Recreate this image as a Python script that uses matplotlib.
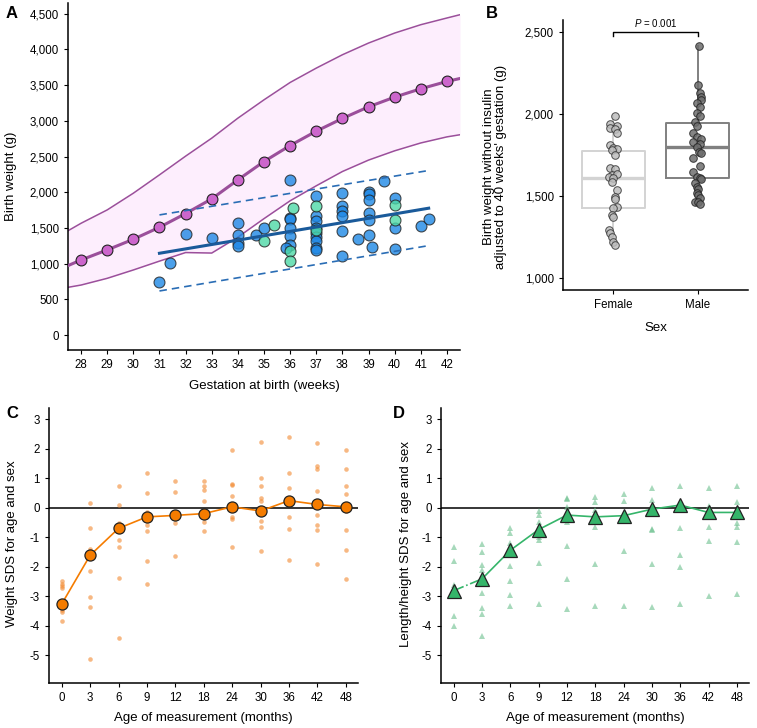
import numpy as np
import matplotlib
matplotlib.use("Agg")
import matplotlib.pyplot as plt

plt.rcParams['font.family'] = ['Liberation Sans', 'DejaVu Sans']
plt.rcParams['mathtext.fontset'] = 'custom'
plt.rcParams['mathtext.it'] = 'Liberation Sans:italic'
plt.rcParams['mathtext.rm'] = 'Liberation Sans'
plt.rcParams['axes.unicode_minus'] = False

# ---- Panel A data ----
centile_weeks = [27.5, 28, 29, 30, 31, 32, 33, 34, 35, 36, 37, 38, 39, 40, 41, 42, 42.5]
centile_median = [972, 1051, 1192, 1341, 1509, 1701, 1907, 2173, 2430, 2654, 2855, 3033, 3196, 3332, 3449, 3551, 3593]
centile_upper = [1460, 1565, 1752, 1986, 2243, 2505, 2757, 3037, 3294, 3537, 3738, 3925, 4089, 4229, 4346, 4440, 4486]
centile_lower = [668, 700, 794, 911, 1035, 1155, 1148, 1370, 1630, 1880, 2090, 2290, 2450, 2580, 2690, 2775, 2805]

blue_weeks = [31.0, 31.4, 32.0, 33.0, 34.0, 34.0, 34.0, 34.0, 34.7, 35.0, 36.0, 36.0, 36.0, 36.0,
              36.0, 36.0, 35.85, 37.0, 37.0, 37.0, 37.0, 37.0, 37.0, 37.0, 37.0, 37.0, 38.0, 38.0,
              38.0, 38.0, 38.0, 38.0, 38.6, 39.0, 39.0, 39.0, 39.0, 39.0, 39.0, 39.15, 39.6, 40.0,
              40.0, 40.0, 41.0, 41.3]
blue_weight = [740, 1015, 1415, 1365, 1575, 1400, 1285, 1240, 1400, 1505, 2175, 1640, 1620, 1495,
               1380, 1260, 1215, 1950, 1660, 1590, 1495, 1425, 1370, 1310, 1215, 1190, 1985, 1810,
               1730, 1670, 1460, 1105, 1345, 2000, 1975, 1895, 1705, 1610, 1400, 1230, 2160, 1915,
               1505, 1205, 1520, 1620]
teal_weeks = [35.0, 35.4, 36.1, 36.0, 36.0, 37.0, 37.0, 40.0, 40.0]
teal_weight = [1310, 1535, 1775, 1170, 1030, 1800, 1470, 1815, 1610]

fit_weeks = [31.0, 41.3]
fit_mean = [1145, 1776]
fit_upper = [1682, 2304]
fit_lower = [617, 1252]

# ---- Panel B data ----
sex_labels = ['Female', 'Male']
female_bw = [1988, 1938, 1930, 1913, 1907, 1887, 1811, 1795, 1787, 1780, 1750, 1668, 1662, 1628, 1634,
             1618, 1607, 1587, 1536, 1495, 1479, 1430, 1424, 1383, 1373, 1292, 1271, 1251, 1220, 1200]
female_jitter = [5, -10, 10, -10, 5, 10, -10, 0, 10, -5, 5, -10, 5, -5, 12,
                 -15, 0, -5, 10, 5, 5, 10, 0, -5, 0, -13, -10, -5, 0, 5]
male_bw = [2418, 2176, 2127, 2107, 2086, 2066, 2045, 2005, 1988, 1954, 1927, 1883, 1862, 1846, 1832,
           1815, 1801, 1770, 1760, 1730, 1683, 1648, 1618, 1607, 1601, 1577, 1556, 1542, 1516, 1506,
           1485, 1465, 1460, 1451]
male_jitter = [4, 2, 7, 12, 10, -3, 7, -1, 7, -8, -1, -13, -3, 12, -13,
               7, -1, 5, 12, -13, 9, -13, -3, 7, 12, -8, -3, 2, -3, 2,
               7, -8, 2, 7]
female_box = dict(q1=1428, med=1608, q3=1774, whislo=1200, whishi=1988)
male_box = dict(q1=1611, med=1799, q3=1947, whislo=1451, whishi=2418)
p_text = '$P$ = 0.001'

# ---- Panels C / D data ----
ages = ['0', '3', '6', '9', '12', '18', '24', '30', '36', '42', '48']
weight_mean = [-3.26, -1.61, -0.70, -0.31, -0.26, -0.20, 0.03, -0.11, 0.24, 0.11, 0.03]
weight_obs = [
    [-2.48, -2.58, -2.65, -2.72, -3.45, -3.55, -3.85],
    [0.17, -0.70, -1.39, -1.47, -2.16, -3.03, -3.38, -5.11],
    [0.72, 0.09, -0.51, -0.59, -1.08, -1.33, -2.39, -4.40],
    [1.19, 0.51, -0.14, -0.42, -0.57, -0.78, -1.82, -2.60],
    [0.91, 0.53, -0.36, -0.51, -1.65],
    [0.89, 0.72, 0.60, 0.24, -0.31, -0.48, -0.78],
    [1.97, 0.80, 0.77, 0.40, -0.33, -0.39, -1.33],
    [2.24, 1.00, 0.74, 0.32, 0.24, -0.44, -0.65, -1.47],
    [2.39, 1.17, 0.68, -0.33, -0.72, -1.76],
    [2.19, 1.40, 1.32, 0.58, -0.25, -0.59, -0.74, -1.92],
    [1.97, 1.32, 0.72, 0.47, -0.10, -0.76, -1.42, -2.41],
]
length_mean = [-2.81, -2.41, -1.44, -0.74, -0.25, -0.31, -0.27, -0.05, 0.09, -0.16, -0.16]
length_obs = [
    [-1.33, -1.81, -2.61, -3.66, -4.00],
    [-1.22, -1.50, -1.93, -2.10, -2.90, -3.41, -3.60, -4.34],
    [-0.68, -0.85, -1.19, -1.99, -2.47, -2.95, -3.34],
    [-0.11, -0.23, -0.50, -0.99, -1.10, -1.88, -3.26],
    [0.34, 0.28, 0.03, -0.48, -1.31, -2.41, -3.43],
    [0.38, 0.20, -0.08, -0.67, -1.90, -3.32],
    [0.45, 0.24, -1.47, -3.34],
    [0.68, 0.26, -0.73, -0.76, -1.92, -3.38],
    [0.75, -0.70, -1.61, -2.01, -3.26],
    [0.68, 0.07, -0.67, -1.14, -2.98],
    [0.75, 0.18, -0.53, -0.65, -1.16, -2.92],
]

TICK = 8.3
LAB = 9.5


def style(ax):
    for s in ['top', 'right']:
        ax.spines[s].set_visible(False)
    for s in ['left', 'bottom']:
        ax.spines[s].set_linewidth(1.1)
    ax.tick_params(direction='out', length=3, width=0.8, labelsize=TICK, colors='black')


fig = plt.figure(figsize=(7.57, 7.28), dpi=100)

# ---------------- A ----------------
axA = fig.add_axes([0.0898, 0.5192, 0.5179, 0.4767])
style(axA)
purple = '#9b4f9b'
axA.fill_between(centile_weeks, centile_lower, centile_upper, color='#fdeefd', lw=0)
axA.plot(centile_weeks, centile_upper, color=purple, lw=1.1)
axA.plot(centile_weeks, centile_lower, color=purple, lw=1.1)
axA.plot(centile_weeks, centile_median, color=purple, lw=2.2, marker='o', markersize=7.8,
         markerfacecolor='#cc66cc', markeredgecolor='#222222', markeredgewidth=0.8,
         markevery=slice(1, -1), zorder=3)
axA.scatter(blue_weeks, blue_weight, s=62, color='#1e88e5', alpha=0.8, edgecolors='#222222',
            linewidths=0.8, zorder=4)
axA.scatter(teal_weeks, teal_weight, s=62, color='#4dd9a6', alpha=0.8, edgecolors='#222222',
            linewidths=0.8, zorder=4)
axA.plot(fit_weeks, fit_mean, color='#1a5a9a', lw=2.2, zorder=5)
axA.plot(fit_weeks, fit_upper, color='#2a6db5', lw=1.2, ls=(0, (4.5, 3)), zorder=5)
axA.plot(fit_weeks, fit_lower, color='#2a6db5', lw=1.2, ls=(0, (4.5, 3)), zorder=5)
axA.set_xlim(27.5, 42.5)
axA.set_ylim(-210, 4650)
axA.set_xticks(range(28, 43))
axA.set_yticks(range(0, 4501, 500))
axA.set_yticklabels([f'{v:,}' for v in range(0, 4501, 500)])
axA.set_ylabel('Birth weight (g)', fontsize=LAB)
axA.set_xlabel('Gestation at birth (weeks)', fontsize=LAB)
axA.yaxis.set_label_coords(-0.13, 0.5)
axA.xaxis.set_label_coords(0.5, -0.086)

# ---------------- B ----------------
axB = fig.add_axes([0.7437, 0.6016, 0.2444, 0.3709])
style(axB)
boxes = [dict(female_box, label=''), dict(male_box, label='')]
box_cols = ['#d3d3d3', '#808080']
for i, (b, c) in enumerate(zip(boxes, box_cols)):
    axB.bxp([b], positions=[i + 1], widths=0.75, showfliers=False, showcaps=False,
            boxprops=dict(color=c, lw=1.4), whiskerprops=dict(color=c, lw=1.4),
            medianprops=dict(color=c, lw=2.4))
axB.scatter(1 + np.array(female_jitter) / 258, female_bw, s=30, color='#bdbdbd', alpha=0.85,
            edgecolors='#333333', linewidths=0.7, zorder=4)
axB.scatter(2 + np.array(male_jitter) / 258, male_bw, s=30, color='#6e6e6e', alpha=0.85,
            edgecolors='#222222', linewidths=0.7, zorder=4)
axB.plot([1, 1, 2, 2], [2480, 2500, 2500, 2480], color='black', lw=1.0)
axB.text(1.5, 2520, p_text, ha='center', va='bottom', fontsize=7)
axB.set_xlim(0.4, 2.6)
axB.set_ylim(925, 2575)
axB.set_xticks([1, 2])
axB.set_xticklabels(sex_labels)
axB.set_yticks([1000, 1500, 2000, 2500])
axB.set_yticklabels([f'{v:,}' for v in [1000, 1500, 2000, 2500]])
axB.set_ylabel("Birth weight without insulin\nadjusted to 40 weeks' gestation (g)", fontsize=LAB,
               linespacing=1.05)
axB.set_xlabel('Sex', fontsize=LAB)
axB.yaxis.set_label_coords(-0.30, 0.456)
axB.xaxis.set_label_coords(0.5, -0.118)


# ---------------- C / D ----------------
def growth(ax, means, obs, marker, col_main, col_light, msize, small, ylabel, dashed_first):
    style(ax)
    pos = np.arange(1, len(ages) + 1)
    ax.axhline(0, color='black', lw=1.1, zorder=1)
    for p, vals in zip(pos, obs):
        ax.plot([p] * len(vals), vals, ls='none', marker=marker, markersize=small,
                color=col_light, alpha=0.6, markeredgewidth=0, zorder=2)
    if dashed_first:
        ax.plot(pos[:2], means[:2], color=col_main, lw=1.2, ls='-.', zorder=3)
        ax.plot(pos[1:], means[1:], color=col_main, lw=1.2, zorder=3)
    else:
        ax.plot(pos, means, color=col_main, lw=1.2, zorder=3)
    ax.plot(pos, means, ls='none', marker=marker, markersize=msize, markerfacecolor=col_main,
            markeredgecolor='#222222', markeredgewidth=0.9, zorder=4)
    ax.set_xlim(0.55, 11.43)
    ax.set_ylim(-5.94, 3.38)
    ax.set_xticks(pos)
    ax.set_xticklabels(ages)
    ax.set_yticks(range(-5, 4))
    ax.set_xlabel('Age of measurement (months)', fontsize=LAB)
    ax.set_ylabel(ylabel, fontsize=LAB)
    ax.xaxis.set_label_coords(0.5, -0.105)


axC = fig.add_axes([0.0647, 0.0618, 0.4082, 0.3778])
growth(axC, weight_mean, weight_obs, 'o', '#f57c00', '#f28a30', 8, 3.3,
       'Weight SDS for age and sex', False)
axC.yaxis.set_label_coords(-0.10, 0.505)

axD = fig.add_axes([0.5826, 0.0618, 0.4068, 0.3778])
growth(axD, length_mean, length_obs, '^', '#35b56a', '#6cc08e', 10, 4,
       'Length/height SDS for age and sex', True)
axD.yaxis.set_label_coords(-0.094, 0.505)

for lbl, x, y in [('A', 12, 14), ('B', 492, 14), ('C', 12, 413), ('D', 399, 413)]:
    fig.text(x / 757, 1 - y / 728, lbl, fontsize=12, fontweight='bold', ha='center', va='center')

fig.savefig('out.png', dpi=100)
